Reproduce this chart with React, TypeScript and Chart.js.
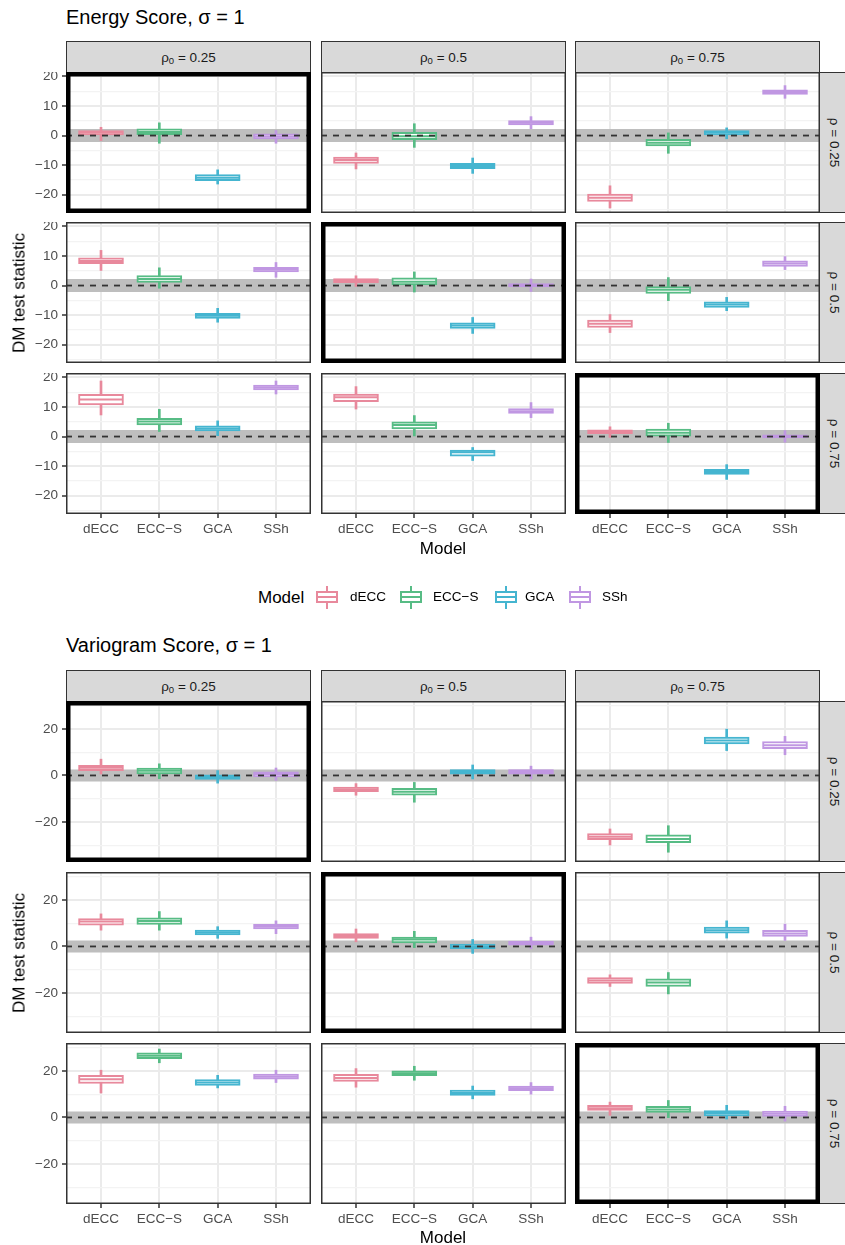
import React, { useEffect, useRef } from "react";
import { Chart, registerables } from "chart.js";
Chart.register(...registerables);

const FONT = "'Liberation Sans', Arial, Helvetica, sans-serif";
Chart.defaults.font.family = FONT;

const MODELS = ["dECC", "ECC\u2212S", "GCA", "SSh"];
const COLORS = ["#E8899C", "#57BC85", "#45B5D0", "#C097E2"];
const RHO = ["0.25", "0.5", "0.75"];
const RHO0 = ["0.25", "0.5", "0.75"];

const ENERGY_TICKS = [-25, -20, -15, -10, -5, 0, 5, 10, 15, 20];
const VARIO_TICKS = [-30, -20, -10, 0, 10, 20, 30];

// Panels in row-major order: rho = 0.25, 0.5, 0.75 (rows) x rho0 = 0.25, 0.5, 0.75 (cols)
// each row: [dECC, ECC-S, GCA, SSh]
const ENERGY_LOW = [
  [-1.7, -2.6, -16.4, -2.6], [-11.3, -4, -12.8, 2.3], [-24.5, -6, -1.1, 12.6],
  [5.1, -0.9, -12.4, 2.8], [-0.3, -2.2, -16.2, -2.0], [-15.9, -5.1, -8.5, 5.4],
  [7.3, 1.7, 0.3, 14.4], [9.3, 0.2, -8.1, 6.4], [-0.3, -2.0, -14.5, -1.9],
];
const ENERGY_Q1 = [
  [0.2, 0, -15.3, -1.1], [-9.4, -1.4, -11.2, 3.6], [-22.3, -3.5, 0.2, 13.9],
  [7.4, 1.1, -11.1, 4.6], [1.0, 0.2, -14.5, -0.5], [-14.2, -2.7, -7.4, 6.5],
  [10.7, 3.9, 1.9, 15.8], [11.8, 2.6, -6.6, 7.8], [1.0, 0.1, -12.8, -0.5],
];
const ENERGY_MED = [
  [1.0, 1.2, -14.3, -0.3], [-8.3, -0.2, -10.3, 4.3], [-21, -2.4, 1.0, 14.7],
  [8.3, 2.2, -10.2, 5.4], [1.6, 1.3, -13.5, 0.1], [-12.9, -1.4, -6.4, 7.5],
  [12.5, 5.1, 2.7, 16.6], [13.3, 3.9, -5.3, 8.6], [1.6, 1.3, -12, 0.1],
];
const ENERGY_Q3 = [
  [1.7, 2.3, -13.2, 0.6], [-7.3, 1.1, -9.4, 5.1], [-19.8, -1.3, 1.7, 15.5],
  [9.4, 3.4, -9.4, 6.2], [2.4, 2.6, -12.6, 0.7], [-11.7, 0, -5.5, 8.4],
  [14.3, 6.2, 3.6, 17.4], [14.4, 5.0, -4.6, 9.5], [2.3, 2.5, -11.1, 0.6],
];
const ENERGY_HIGH = [
  [2.8, 4.3, -11.6, 1.7], [-5.9, 4, -7.6, 6.4], [-17, 0.9, 2.6, 16.9],
  [11.9, 6, -7.7, 7.8], [3.3, 4.6, -10.8, 2.2], [-9.8, 2.7, -4, 9.8],
  [18.8, 9.2, 5.3, 18.8], [16.9, 7.1, -3.7, 11.5], [3.3, 4.5, -9.5, 2.0],
];

const VARIO_LOW = [
  [0.6, -1.4, -3.3, -2.1], [-8.5, -11.5, -1.5, -1.5], [-29.9, -33, 10.7, 8.9],
  [7, 7, 3.5, 5.5], [2, -0.5, -3, -1], [-17.2, -20.4, 3.6, 2.6],
  [10.5, 23.5, 12.7, 15], [13, 16, 8, 10], [0.9, -0.1, -0.7, -1.6],
];
const VARIO_Q1 = [
  [2.1, 0.7, -1.7, -0.6], [-7, -8.5, 0.5, 0.5], [-27.6, -28.9, 13.5, 11.5],
  [9.2, 9.5, 5, 7.5], [3.5, 1.5, -1, 0.5], [-15.9, -17.2, 5.7, 4.3],
  [14.6, 25.3, 13.8, 16.4], [15.5, 18, 9.5, 11.5], [3, 2.2, 0.7, 0.4],
];
const VARIO_MED = [
  [3.3, 2.0, -0.7, 0.6], [-6, -7, 1.5, 1.5], [-26.3, -27.3, 15, 13],
  [10.7, 10.9, 6, 8.6], [4.5, 3, 0, 1.5], [-14.6, -15.5, 7, 5.6],
  [16.4, 26.5, 15, 17.5], [17, 19, 10.5, 12.5], [4, 3.4, 1.9, 1.6],
];
const VARIO_Q3 = [
  [4.3, 3.2, 0.3, 1.6], [-5, -5.5, 2.5, 2.5], [-25, -25.5, 16.5, 14.6],
  [12, 12.3, 7, 9.5], [5.5, 4, 1, 2.3], [-13.4, -13.9, 8.3, 6.9],
  [18.1, 27.8, 16.3, 18.6], [18.5, 20, 11.8, 13.5], [5.2, 4.8, 3, 2.7],
];
const VARIO_HIGH = [
  [7.0, 5.0, 2.1, 3.2], [-3.5, -3, 4.5, 4], [-23, -21.6, 19.9, 16.8],
  [14, 15, 8.5, 11], [7.5, 6.5, 3, 4], [-12.2, -11.2, 11, 9.6],
  [20.3, 29.4, 18.1, 20.3], [21, 22, 13.5, 15], [6.6, 7.3, 5.2, 4.8],
];

const COL_LEFT = [66, 321, 575];
const PANEL_W = 245;
const AXIS_W = 40;
const AXIS_H = 26;

const fmt = (v: number) => (v < 0 ? "\u2212" + Math.abs(v) : String(v));

const framePlugin = {
  id: "panelFrame",
  afterDraw(chart: any, _args: any, opts: any) {
    const { left, top, right, bottom } = chart.chartArea;
    const ctx = chart.ctx;
    ctx.save();
    ctx.strokeStyle = "#333333";
    ctx.lineWidth = 1.5;
    ctx.strokeRect(left + 0.75, top + 0.75, right - left - 1.5, bottom - top - 1.5);
    if (opts && opts.highlight) {
      ctx.strokeStyle = "#000000";
      ctx.lineWidth = 4.5;
      ctx.strokeRect(left + 2.25, top + 2.25, right - left - 4.5, bottom - top - 4.5);
    }
    ctx.restore();
  },
};

const zeroPad = (s: any) => {
  s.paddingTop = 0;
  s.paddingBottom = 0;
  s.paddingLeft = 0;
  s.paddingRight = 0;
};

type PanelProps = {
  left: number;
  top: number;
  height: number;
  showY: boolean;
  showX: boolean;
  highlight: boolean;
  lo: number[];
  q1: number[];
  md: number[];
  q3: number[];
  hi: number[];
  yMin: number;
  yMax: number;
  yTicks: number[];
  majorStep: number;
  band: number;
};

function Panel(p: PanelProps) {
  const ref = useRef<HTMLCanvasElement>(null);
  const aw = p.showY ? AXIS_W : 0;
  const ah = p.showX ? AXIS_H : 0;
  useEffect(() => {
    const xs = [0, 1, 2, 3];
    const isMajor = (v: number) => Math.abs(v % p.majorStep) < 1e-9;
    const chart = new Chart(ref.current as HTMLCanvasElement, {
      type: "bar",
      data: {
        datasets: [
          {
            type: "line",
            data: [{ x: -0.6, y: 0 }, { x: 3.6, y: 0 }],
            borderColor: "#BEBEBE",
            borderWidth: p.band,
            pointRadius: 0,
            borderCapStyle: "butt",
            order: 10,
            clip: 0,
          } as any,
          {
            type: "bar",
            data: xs.map((i) => ({ x: i, y: [p.lo[i], p.hi[i]] })),
            backgroundColor: COLORS,
            borderWidth: 0,
            barThickness: 2,
            grouped: false,
            order: 6,
          } as any,
          {
            type: "bar",
            data: xs.map((i) => ({ x: i, y: [p.q1[i], p.q3[i]] })),
            backgroundColor: "#FFFFFF",
            borderColor: COLORS,
            borderWidth: 2,
            borderSkipped: false,
            barThickness: 45,
            grouped: false,
            order: 5,
          } as any,
          {
            type: "line",
            data: xs.map((i) => ({ x: i, y: p.md[i] })),
            showLine: false,
            pointStyle: "line",
            pointRadius: 22,
            pointBorderWidth: 2,
            pointBorderColor: COLORS,
            order: 4,
          } as any,
          {
            type: "line",
            data: [{ x: -0.6, y: 0 }, { x: 3.6, y: 0 }],
            borderColor: "#333333",
            borderWidth: 1.8,
            borderDash: [6, 6],
            pointRadius: 0,
            order: 0,
            clip: 0,
          } as any,
        ],
      },
      options: {
        animation: false,
        responsive: false,
        maintainAspectRatio: false,
        events: [],
        layout: { padding: 0, autoPadding: false } as any,
        plugins: {
          legend: { display: false },
          tooltip: { enabled: false },
          panelFrame: { highlight: p.highlight },
        } as any,
        scales: {
          x: {
            type: "linear",
            min: -0.6,
            max: 3.6,
            offset: false,
            position: "bottom",
            afterBuildTicks: (s: any) => {
              s.ticks = xs.map((v) => ({ value: v }));
            },
            afterFit: (s: any) => {
              s.height = ah;
              zeroPad(s);
            },
            grid: {
              offset: false,
              color: "#EBEBEB",
              lineWidth: 2,
              drawTicks: p.showX,
              tickLength: 4,
              tickColor: "#333333",
              tickWidth: 1.5,
            },
            border: { display: false },
            ticks: {
              display: p.showX,
              padding: 3,
              color: "#4D4D4D",
              font: { family: FONT, size: 13.5 },
              maxRotation: 0,
              autoSkip: false,
              callback: (v: any) => MODELS[Number(v)] ?? "",
            },
          } as any,
          y: {
            type: "linear",
            min: p.yMin,
            max: p.yMax,
            position: "left",
            afterBuildTicks: (s: any) => {
              s.ticks = p.yTicks.map((v) => ({ value: v }));
            },
            afterFit: (s: any) => {
              s.width = aw;
              zeroPad(s);
            },
            grid: {
              color: (c: any) => (isMajor(c.tick.value) ? "#EBEBEB" : "#F3F3F3"),
              lineWidth: (c: any) => (isMajor(c.tick.value) ? 2 : 1.2),
              drawTicks: p.showY,
              tickLength: 4,
              tickColor: (c: any) => (isMajor(c.tick.value) ? "#333333" : "rgba(0,0,0,0)"),
              tickWidth: 1.5,
            },
            border: { display: false },
            ticks: {
              display: p.showY,
              padding: 4,
              color: "#4D4D4D",
              font: { family: FONT, size: 13.5 },
              autoSkip: false,
              callback: (v: any) => (isMajor(Number(v)) ? fmt(Number(v)) : ""),
            },
          } as any,
        },
      },
      plugins: [framePlugin as any],
    });
    return () => chart.destroy();
  }, []);
  return (
    <canvas
      ref={ref}
      width={PANEL_W + aw}
      height={p.height + ah}
      style={{ position: "absolute", left: p.left - aw, top: p.top, width: PANEL_W + aw, height: p.height + ah }}
    />
  );
}

function Txt(props: {
  x: number;
  y: number;
  size: number;
  color?: string;
  anchor?: "start" | "middle";
  rotate?: number;
  children: React.ReactNode;
}) {
  const tx = props.anchor === "start" ? "0%" : "-50%";
  return (
    <div
      style={{
        position: "absolute",
        left: props.x,
        top: props.y,
        transform: `translate(${tx}, -50%)${props.rotate ? ` rotate(${props.rotate}deg)` : ""}`,
        transformOrigin: props.anchor === "start" ? "left center" : "center center",
        fontSize: props.size,
        color: props.color || "#000",
        whiteSpace: "nowrap",
        lineHeight: 1,
        fontFamily: FONT,
      }}
    >
      {props.children}
    </div>
  );
}

const stripStyle: React.CSSProperties = {
  position: "absolute",
  background: "#D9D9D9",
  border: "1.5px solid #333333",
  boxSizing: "border-box",
  display: "flex",
  alignItems: "center",
  justifyContent: "center",
  fontFamily: FONT,
  fontSize: 13.5,
  color: "#1A1A1A",
  whiteSpace: "nowrap",
};

function Grid(props: {
  title: string;
  titleY: number;
  stripTop: number;
  rowTops: number[];
  rowH: number;
  xLabelY: number;
  low: number[][];
  q1: number[][];
  med: number[][];
  q3: number[][];
  high: number[][];
  yMin: number;
  yMax: number;
  yTicks: number[];
  majorStep: number;
  band: number;
}) {
  const panels: React.ReactNode[] = [];
  for (let r = 0; r < 3; r++) {
    for (let c = 0; c < 3; c++) {
      const k = r * 3 + c;
      panels.push(
        <Panel
          key={k}
          left={COL_LEFT[c]}
          top={props.rowTops[r]}
          height={props.rowH}
          showY={c === 0}
          showX={r === 2}
          highlight={r === c}
          lo={props.low[k]}
          q1={props.q1[k]}
          md={props.med[k]}
          q3={props.q3[k]}
          hi={props.high[k]}
          yMin={props.yMin}
          yMax={props.yMax}
          yTicks={props.yTicks}
          majorStep={props.majorStep}
          band={props.band}
        />
      );
    }
  }
  const midY = (props.rowTops[0] + props.rowTops[2] + props.rowH) / 2;
  return (
    <>
      <Txt x={66} y={props.titleY} size={20} anchor="start">
        {props.title}
      </Txt>
      {RHO0.map((r, c) => (
        <div
          key={"ts" + c}
          style={{ ...stripStyle, left: COL_LEFT[c], top: props.stripTop, width: PANEL_W, height: props.rowTops[0] - props.stripTop + 1 }}
        >
          <span>
            ρ<span style={{ fontSize: 9.5, position: "relative", top: 2 }}>0</span> = {r}
          </span>
        </div>
      ))}
      {RHO.map((r, i) => (
        <div
          key={"rs" + i}
          style={{ ...stripStyle, left: COL_LEFT[2] + PANEL_W - 1, top: props.rowTops[i], width: 32, height: props.rowH }}
        >
          <span style={{ transform: "rotate(90deg)", display: "inline-block" }}>ρ = {r}</span>
        </div>
      ))}
      {panels}
      <Txt x={19} y={midY} size={17} rotate={-90}>
        DM test statistic
      </Txt>
      <Txt x={443} y={props.xLabelY} size={17}>
        Model
      </Txt>
    </>
  );
}

function LegendKey({ cx, cy, color }: { cx: number; cy: number; color: string }) {
  return (
    <div style={{ position: "absolute", left: cx - 11, top: cy - 11.5, width: 22, height: 23 }}>
      <div style={{ position: "absolute", left: 10, top: 0, width: 2, height: 23, background: color }} />
      <div
        style={{
          position: "absolute",
          left: 0,
          top: 5.5,
          width: 22,
          height: 12,
          boxSizing: "border-box",
          border: `2px solid ${color}`,
          background: "#FFFFFF",
        }}
      />
      <div style={{ position: "absolute", left: 0, top: 10.5, width: 22, height: 2, background: color }} />
    </div>
  );
}

const LEGEND_KEY_X = [327, 411, 506, 580];
const LEGEND_TEXT_X = [350, 433, 525, 602];

export default function App() {
  useEffect(() => {
    document.body.style.overflow = "hidden";
  }, []);
  return (
    <div
      style={{
        position: "absolute",
        left: 0,
        top: 0,
        width: 845,
        height: 1245,
        overflow: "hidden",
        background: "#FFFFFF",
        fontFamily: FONT,
      }}
    >
      <Grid
        title="Energy Score, σ = 1"
        titleY={17}
        stripTop={41}
        rowTops={[72, 222, 373]}
        rowH={141}
        xLabelY={548}
        low={ENERGY_LOW}
        q1={ENERGY_Q1}
        med={ENERGY_MED}
        q3={ENERGY_Q3}
        high={ENERGY_HIGH}
        yMin={-26.2}
        yMax={21.5}
        yTicks={ENERGY_TICKS}
        majorStep={10}
        band={13}
      />
      <Txt x={258} y={597} size={17} anchor="start">
        Model
      </Txt>
      {MODELS.map((m, i) => (
        <React.Fragment key={m}>
          <LegendKey cx={LEGEND_KEY_X[i]} cy={597} color={COLORS[i]} />
          <Txt x={LEGEND_TEXT_X[i]} y={597} size={13.5} anchor="start">
            {m}
          </Txt>
        </React.Fragment>
      ))}
      <Grid
        title="Variogram Score, σ = 1"
        titleY={645}
        stripTop={670}
        rowTops={[701, 872, 1043]}
        rowH={161}
        xLabelY={1237}
        low={VARIO_LOW}
        q1={VARIO_Q1}
        med={VARIO_MED}
        q3={VARIO_Q3}
        high={VARIO_HIGH}
        yMin={-37.2}
        yMax={32}
        yTicks={VARIO_TICKS}
        majorStep={20}
        band={12}
      />
    </div>
  );
}
